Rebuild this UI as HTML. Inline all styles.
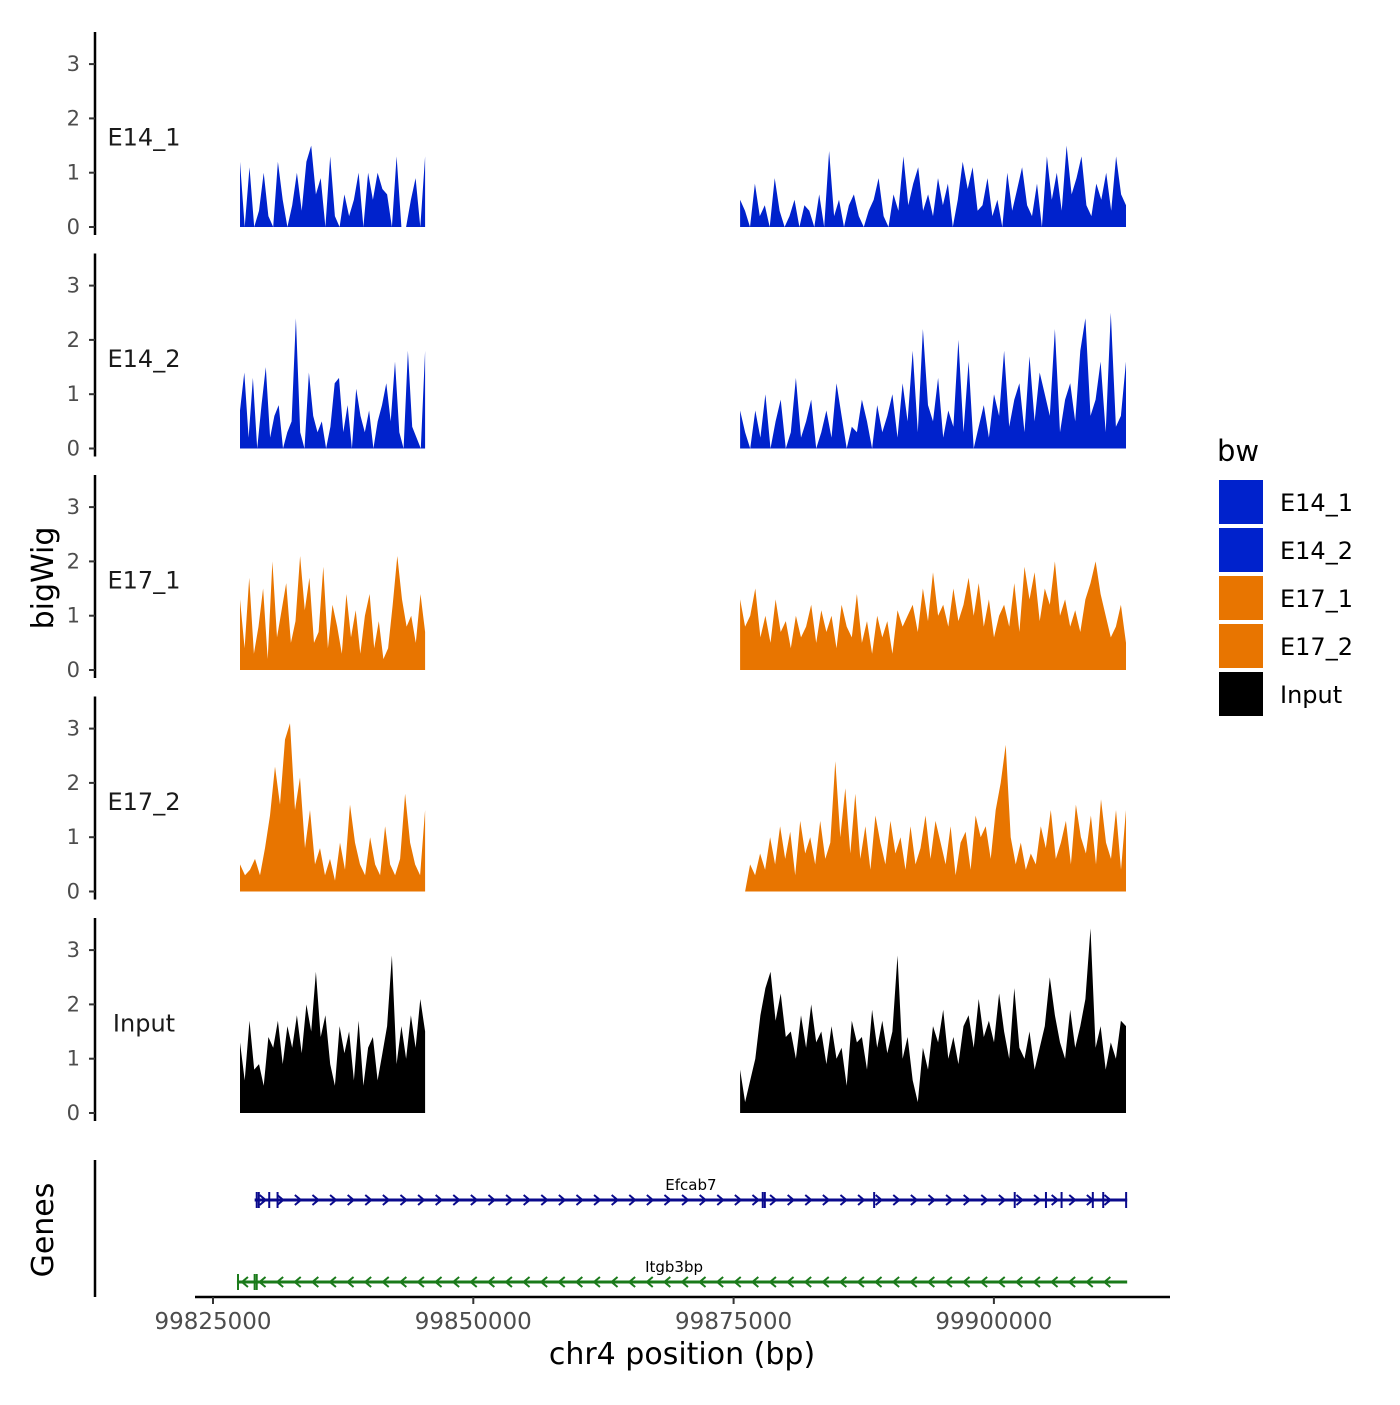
<!DOCTYPE html>
<html><head><meta charset="utf-8"><style>
html,body{margin:0;padding:0;background:#fff;}
svg text{font-family:"DejaVu Sans","Liberation Sans",sans-serif;}
</style></head><body>
<svg id="chart" width="1400" height="1400" viewBox="0 0 1400 1400" xmlns="http://www.w3.org/2000/svg">
<g id="tracks"></g>
<g id="genes"></g>
<g id="axes"></g>
<text x="53" y="578" font-size="30" text-anchor="middle" transform="rotate(-90 53 578)">bigWig</text>
<text x="53" y="1230" font-size="30" text-anchor="middle" transform="rotate(-90 53 1230)">Genes</text>
<text x="682" y="1364" font-size="30" text-anchor="middle">chr4 position (bp)</text>
<g>
<text x="1217" y="461" font-size="29">bw</text>
<rect x="1219" y="480" width="44" height="44" fill="#0022CC"/>
<rect x="1219" y="528" width="44" height="44" fill="#0022CC"/>
<rect x="1219" y="576" width="44" height="44" fill="#E87500"/>
<rect x="1219" y="624" width="44" height="44" fill="#E87500"/>
<rect x="1219" y="672" width="44" height="44" fill="#000"/>
<text x="1280" y="511" font-size="24">E14_1</text>
<text x="1280" y="559" font-size="24">E14_2</text>
<text x="1280" y="607" font-size="24">E17_1</text>
<text x="1280" y="655" font-size="24">E17_2</text>
<text x="1280" y="703" font-size="24">Input</text>
</g>
</svg>
<script>
const NS="http://www.w3.org/2000/svg";
const trackNames=["E14_1","E14_2","E17_1","E17_2","Input"];
const trackColors=["#0022CC","#0022CC","#E87500","#E87500","#000000"];
const leftBlock=[99827590,99845370];
const rightBlock=[99875620,99912690];
const e17_2RightStart=99876100;
const yTicks=[0,1,2,3];
const xTicks=[99825000,99850000,99875000,99900000];
const e14_1L=[1.2,0,1.1,0,0.3,1.0,0.2,0,1.2,0.5,0,0.4,1.0,0.3,1.2,1.5,0.6,0.9,0,1.3,0.2,0,0.6,0.2,0.5,1.0,0,1.0,0.5,1.0,0.7,0.6,0,1.3,0,0,0.5,0.9,0,1.3];
const e14_1R=[0.5,0.3,0,0.8,0.2,0.4,0,0.9,0.3,0,0.2,0.5,0,0.4,0.3,0,0.6,0,1.4,0.2,0.5,0,0.4,0.6,0.2,0,0.3,0.5,0.9,0.2,0,0.6,0.3,1.3,0.4,0.8,1.1,0.3,0.6,0.2,0.9,0.4,0.8,0,0.5,1.2,0.7,1.1,0.3,0.4,0.9,0.2,0.5,0,1.0,0.3,0.7,1.1,0.4,0.2,0.8,0,1.3,0.5,1.0,0.3,1.5,0.6,0.9,1.3,0.4,0.2,0.8,0.5,1.0,0.3,1.3,0.6,0.4];
const e14_2L=[0.7,1.4,0.2,1.3,0,0.8,1.5,0.2,0.6,0.8,0,0.3,0.5,2.4,0.3,0,1.4,0.6,0.3,0.5,0,0.4,1.2,1.3,0.3,0.8,0,1.1,0.6,0.3,0.7,0,0.5,0.8,1.2,0.5,1.6,0.3,0,1.8,0.4,0.2,0,1.8];
const e14_2R=[0.7,0.3,0,0.7,0.2,1.0,0,0.5,0.9,0,0.3,1.3,0.2,0.5,0.9,0,0.3,0.7,0.2,1.2,0.6,0,0.4,0.3,0.9,0.5,0,0.8,0.3,0.6,1.0,0.2,1.2,0.5,1.8,0.3,2.2,0.8,0.5,1.3,0.2,0.7,0.4,2.0,0.3,1.6,0,0.4,0.8,0.2,1.0,0.6,1.8,0.4,0.9,1.2,0.3,1.7,0.5,1.4,1.0,0.6,2.2,0.3,0.9,1.2,0.5,1.8,2.4,0.6,0.9,1.6,0.3,2.5,0.4,0.6,1.6];
const e17_1L=[1.3,0.4,1.7,0.3,0.8,1.5,0.2,2.0,0.6,1.1,1.6,0.5,0.9,2.1,1.1,1.7,0.5,0.7,1.9,0.4,1.2,0.8,0.3,1.4,0.6,1.1,0.3,1.0,1.4,0.4,0.9,0.2,0.4,1.2,2.1,1.3,0.8,1.0,0.5,1.4,0.7];
const e17_1R=[1.3,0.8,1.0,1.5,0.6,1.0,0.5,1.3,0.7,0.9,0.4,1.0,0.6,0.8,1.2,0.5,1.1,0.7,1.0,0.4,1.2,0.8,0.6,1.4,0.5,0.9,0.3,1.0,0.6,0.9,0.3,1.1,0.8,1.0,1.2,0.7,1.5,0.9,1.8,1.0,1.2,0.8,1.5,0.9,1.2,1.7,1.0,1.6,0.8,1.3,0.6,1.0,1.2,0.8,1.6,0.7,1.9,1.3,1.8,0.9,1.5,1.2,2.0,1.0,1.3,0.8,1.1,0.7,1.3,1.6,2.0,1.4,1.0,0.6,0.8,1.2,0.5];
const e17_2L=[0.5,0.3,0.4,0.6,0.3,0.8,1.4,2.3,1.6,2.8,3.1,1.5,2.1,0.8,1.5,0.5,0.8,0.3,0.6,0.2,0.9,0.4,1.6,0.9,0.5,0.3,1.0,0.5,0.3,1.2,0.5,0.3,0.6,1.8,0.9,0.5,0.3,1.5];
const e17_2R=[0,0.5,0.3,0.7,0.4,1.0,0.5,1.2,0.6,1.1,0.3,1.3,0.7,1.0,0.5,1.3,0.6,0.9,2.4,1.0,1.9,0.7,1.8,0.6,1.2,0.4,1.4,0.9,0.5,1.3,0.7,1.0,0.4,1.2,0.5,0.8,1.4,0.6,1.3,0.9,0.5,1.2,0.3,0.9,1.1,0.4,1.4,1.0,1.2,0.6,1.5,2.0,2.7,1.0,0.5,0.9,0.4,0.7,0.5,1.2,0.8,1.5,0.6,0.9,1.3,0.5,1.6,1.0,0.7,1.4,0.5,1.7,0.9,0.6,1.5,0.4,1.5];
const inputL=[1.3,0.6,1.7,0.8,0.9,0.5,1.4,1.2,1.7,0.9,1.6,1.2,1.8,1.1,2.0,1.5,2.6,1.4,1.8,0.9,0.5,1.6,1.1,1.5,0.6,1.7,0.5,1.2,1.4,0.6,1.1,1.6,2.9,0.9,1.6,1.0,1.8,1.2,2.1,1.5];
const inputR=[0.8,0.2,0.6,1.0,1.8,2.3,2.6,1.7,2.2,1.4,1.5,1.0,1.8,1.2,2.0,1.3,1.5,0.9,1.6,1.0,1.2,0.5,1.7,1.3,1.4,0.8,1.9,1.2,1.7,1.1,1.5,2.9,1.0,1.4,0.6,0.2,1.2,0.8,1.6,1.3,1.9,1.0,1.4,0.9,1.6,1.8,1.2,2.1,1.4,1.7,1.3,2.2,1.5,1.0,2.3,1.2,1.0,1.5,0.8,1.2,1.6,2.5,1.8,1.3,1.0,1.9,1.2,1.6,2.1,3.4,1.2,1.6,0.8,1.3,1.0,1.7,1.6];
const geneNames=["Efcab7","Itgb3bp"];
const geneStarts=[99829000,99827300];
const geneEnds=[99912800,99912800];
const geneStrands=[1,-1];
const geneExons=[[99829200,99829400,99830400,99831200,99877800,99878000,99888500,99902000,99905000,99906500,99909500,99910500,99912700],[99827400,99829000,99829200]];

const leftData=[e14_1L,e14_2L,e17_1L,e17_2L,inputL];
const rightData=[e14_1R,e14_2R,e17_1R,e17_2R,inputR];
const rightStarts=[rightBlock[0],rightBlock[0],rightBlock[0],e17_2RightStart,rightBlock[0]];

const x=bp=>213+(bp-99825000)*(260.3/25000);
const panelZero=i=>227+i*221.5;
const y=(i,v)=>panelZero(i)-v*54.3;

const tracks=document.getElementById('tracks');
const axes=document.getElementById('axes');
function mk(tag,attrs,parent){const e=document.createElementNS(NS,tag);for(const k in attrs)e.setAttribute(k,attrs[k]);parent.appendChild(e);return e;}

function area(i,vals,s,e,color,name){
  const n=vals.length,step=(e-s)/(n-1);
  let d=`M${x(s).toFixed(1)},${panelZero(i)}`;
  vals.forEach((v,k)=>{d+=` L${x(s+k*step).toFixed(1)},${y(i,v).toFixed(1)}`;});
  d+=` L${x(e).toFixed(1)},${panelZero(i)} Z`;
  const p=mk('path',{d:d,fill:color},tracks);
  
  
}
trackNames.forEach((nm,i)=>{
  area(i,leftData[i],leftBlock[0],leftBlock[1],trackColors[i],'signal-area-'+nm.toLowerCase()+'-left');
  area(i,rightData[i],rightStarts[i],rightBlock[1],trackColors[i],'signal-area-'+nm.toLowerCase()+'-right');
  const top=panelZero(i)-195,bot=panelZero(i)+8;
  const ax=mk('line',{x1:95,x2:95,y1:top,y2:bot,stroke:'#000','stroke-width':2.5},axes);
  
  
  yTicks.forEach(t=>{
    const tk=mk('line',{x1:89,x2:95,y1:y(i,t),y2:y(i,t),stroke:'#333','stroke-width':2},axes);
    
    
    const tl=mk('text',{x:80,y:y(i,t)+7,'font-size':21,'text-anchor':'end',fill:'#4d4d4d'},axes);
    tl.textContent=t;
    
    
  });
  const sl=mk('text',{x:144,y:y(i,1.65)+8,'font-size':24,'text-anchor':'middle',fill:'#1a1a1a'},axes);
  sl.textContent=nm;
  
  
});
const ga=mk('line',{x1:95,x2:95,y1:1160,y2:1297,stroke:'#000','stroke-width':2.5},axes);


const xa=mk('line',{x1:195,x2:1170,y1:1297,y2:1297,stroke:'#000','stroke-width':2.5},axes);


xTicks.forEach(t=>{
  const tk=mk('line',{x1:x(t),x2:x(t),y1:1297,y2:1304,stroke:'#333','stroke-width':2},axes);
  
  
  const tl=mk('text',{x:x(t),y:1329,'font-size':23,'text-anchor':'middle',fill:'#4d4d4d'},axes);
  tl.textContent=t;
  
  
});
const genes=document.getElementById('genes');
const geneColors=["#0A0A8C","#1A7A1A"];
const geneY=[1200,1282];
geneNames.forEach((g,i)=>{
  const gy=geneY[i],c=geneColors[i],x1=x(geneStarts[i]),x2=x(geneEnds[i]);
  const ln=mk('line',{x1:x1,x2:x2,y1:gy,y2:gy,stroke:c,'stroke-width':3},genes);
  
  
  for(let px=x1+8;px<x2-4;px+=17.6){
    const s=geneStrands[i];
    const ch=mk('path',{d:`M${px-3*s},${gy-5} L${px+3*s},${gy} L${px-3*s},${gy+5}`,stroke:c,'stroke-width':2,fill:'none'},genes);
    
    
  }
  geneExons[i].forEach(b=>{
    const ex=mk('line',{x1:x(b),x2:x(b),y1:gy-8,y2:gy+8,stroke:c,'stroke-width':2},genes);
    
    
  });
  const lb=mk('text',{x:(x1+x2)/2+i*(-8),y:gy-10,'font-size':15,'text-anchor':'middle',fill:'#000'},genes);
  lb.textContent=g;
  
  
});
</script>
</body></html>
